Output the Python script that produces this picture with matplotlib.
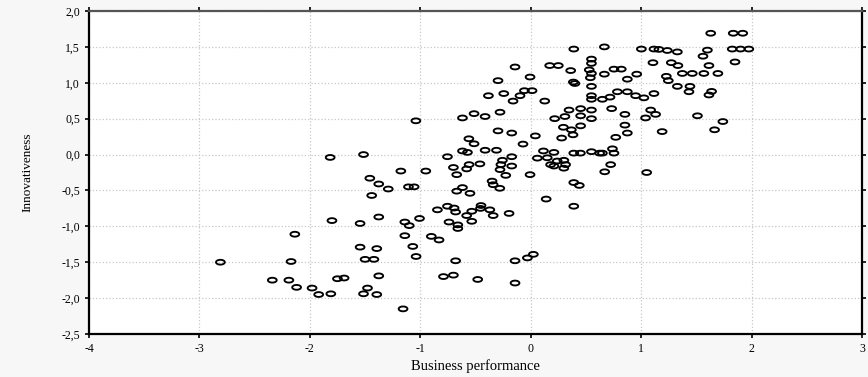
import numpy as np
import matplotlib
matplotlib.use('Agg')
import matplotlib.pyplot as plt
from matplotlib.path import Path
from matplotlib.ticker import FuncFormatter

# Dane
biz_perf = [
    -1.816, -1.514, -1.176, -0.95, -1.457, -1.376, -1.29, -1.44, -1.107, -1.056,
    -0.845, -1.80, -1.545, -1.376, -1.14, -1.10, -1.007, -2.136, -1.14, -0.90,
    -0.83, -1.545, -1.394, -1.068, -1.038, -2.81, -2.17, -1.50, -1.42, -2.34,
    -2.19, -2.12, -1.98, -1.92, -1.81, -1.75, -1.69, -1.376, -1.478, -1.514,
    -1.394, -1.156,
    -0.618, -0.67, -0.55, -0.35, -0.34, -0.28, 0.39, 0.44, 0.14, 0.39,
    -0.754, -0.694, -0.68, -0.58, -0.534, -0.45, -0.455, -0.37, -0.34, -0.196,
    -0.534, -0.74, -0.66, -0.66, -0.68, -0.142, -0.03, 0.024, -0.79, -0.70,
    -0.48, -0.142,
    0.39, 0.667, 1.002, 1.116, 1.161, 1.237, 1.328, -0.142, 0.172, 0.25,
    0.362, 0.667, 0.754, 0.82, 0.875, 0.96, -0.296, -0.006, 0.386, 0.40,
    0.55, -0.383, -0.244, -0.097, -0.057, 0.012, -0.16, 0.127, 0.55, 0.55,
    0.649, 0.718, 0.785, 0.875, 0.95, 1.025, 1.116, -0.618, -0.513, -0.413,
    -0.278, -1.04, 0.217, 0.31, 0.347, 0.452, 0.452, 0.55, 0.55, 0.733,
    0.853, 1.04, 1.086, 1.131, -0.296, -0.172, 0.042, -0.07, -0.56, -0.513,
    0.296, 0.368, 0.452, 0.28, 0.383, 0.853, 0.875, 0.77, 1.19, 1.51,
    1.665, 1.74, -0.754, -0.618, -0.573, -0.413, -0.31, -0.172, -0.256, -0.27,
    -0.172, -0.278, -0.226, -0.558, -0.46, -0.58, -0.70, -0.67, -0.006, 0.115,
    0.21, 0.06, 0.15, 0.18, 0.24, 0.30, 0.316, 0.30, 0.21, 0.39,
    0.45, 0.55, 0.624, 0.649, 0.74, 0.754, 0.724, 0.67, 1.05, 1.63,
    1.834, 1.92, 1.60, 1.56, 1.825, 1.90, 1.975, 1.85, 1.107, 1.273,
    1.333, 1.614, 1.373, 1.463, 1.568, 1.695, 1.228, 1.246, 1.328, 1.442,
    1.433, 1.614, 1.638, 0.55, 0.55, 0.53, 0.55, 0.54,
]
innov = [
    -0.04, 0.00, -0.23, -0.23, -0.33, -0.41, -0.48, -0.57, -0.45, -0.45,
    -0.77, -0.92, -0.96, -0.87, -0.94, -0.99, -0.89, -1.11, -1.13, -1.14,
    -1.19, -1.29, -1.31, -1.28, -1.42, -1.50, -1.49, -1.46, -1.46, -1.75,
    -1.75, -1.85, -1.86, -1.95, -1.94, -1.73, -1.72, -1.69, -1.86, -1.94,
    -1.95, -2.15,
    -0.46, -0.51, -0.54, -0.37, -0.42, -0.47, -0.39, -0.43, -0.62, -0.72,
    -0.72, -0.745, -0.80, -0.85, -0.79, -0.71, -0.75, -0.77, -0.85, -0.82,
    -0.93, -0.94, -0.98, -1.03, -1.48, -1.48, -1.44, -1.39, -1.70, -1.68,
    -1.74, -1.79,
    1.47, 1.50, 1.47, 1.47, 1.465, 1.45, 1.43, 1.22, 1.24, 1.24,
    1.17, 1.12, 1.19, 1.19, 1.05, 1.12, 1.03, 1.08, 1.01, 0.99,
    0.95, 0.82, 0.85, 0.82, 0.89, 0.89, 0.745, 0.745, 0.82, 0.77,
    0.77, 0.80, 0.875, 0.875, 0.82, 0.79, 0.85, 0.51, 0.57, 0.53,
    0.59, 0.47, 0.50, 0.53, 0.62, 0.64, 0.54, 0.62, 0.50, 0.64,
    0.56, 0.51, 0.62, 0.56, 0.33, 0.30, 0.26, 0.146, 0.22, 0.15,
    0.38, 0.345, 0.40, 0.23, 0.275, 0.41, 0.30, 0.24, 0.32, 0.54,
    0.345, 0.46, -0.03, 0.05, 0.03, 0.06, 0.06, -0.03, -0.08, -0.14,
    -0.16, -0.21, -0.29, -0.14, -0.13, -0.20, -0.18, -0.28, -0.28, 0.05,
    0.03, -0.05, -0.045, -0.14, -0.09, -0.08, -0.14, -0.19, -0.16, 0.02,
    0.02, 0.04, 0.02, 0.02, 0.08, 0.02, -0.14, -0.24, -0.25, 1.69,
    1.69, 1.69, 1.455, 1.37, 1.47, 1.47, 1.47, 1.29, 1.28, 1.28,
    1.24, 1.24, 1.13, 1.13, 1.13, 1.13, 1.09, 1.03, 0.95, 0.95,
    0.875, 0.83, 0.88, 1.33, 1.27, 1.18, 1.13, 1.07,
]

x_ticks = [-4, -3, -2, -1, 0, 1, 2, 3]
y_ticks = [-2.5, -2.0, -1.5, -1.0, -0.5, 0.0, 0.5, 1.0, 1.5, 2.0]

plt.rcParams['font.family'] = 'Liberation Serif'
plt.rcParams['axes.unicode_minus'] = False

# marker w ksztalcie elipsy
t = np.linspace(0, 2 * np.pi, 60)
ellipse = Path(np.column_stack([np.cos(t), 0.55 * np.sin(t)]), closed=True)

fig = plt.figure(figsize=(8.68, 3.77), dpi=100, facecolor='#f7f7f7')
ax = fig.add_axes([89 / 868, 1 - 334 / 377, (862 - 89) / 868, (334 - 11) / 377])
ax.set_facecolor('white')

ax.scatter(biz_perf, innov, marker=ellipse, s=40, facecolors='none',
           edgecolors='black', linewidths=1.35, zorder=3)

ax.set_xlim(x_ticks[0], x_ticks[-1])
ax.set_ylim(y_ticks[0], y_ticks[-1])
ax.set_xticks(x_ticks)
ax.set_yticks(y_ticks)
ax.yaxis.set_major_formatter(FuncFormatter(lambda v, p: ('%.1f' % v).replace('.', ',')))
ax.xaxis.set_major_formatter(FuncFormatter(lambda v, p: '%d' % v))

ax.grid(True, color='#c8c8c8', linestyle=':', linewidth=0.9, zorder=0)
ax.tick_params(axis='both', labelsize=8.5, direction='out', length=3, width=1.2)
ax.tick_params(axis='y', right=True, left=True)
ax.tick_params(axis='x', top=True, bottom=True)

for side in ['left', 'bottom', 'right']:
    ax.spines[side].set_linewidth(1.6)
    ax.spines[side].set_color('black')
ax.spines['top'].set_linewidth(1.6)
ax.spines['top'].set_color('#555555')

ax.set_xlabel('Business performance', fontsize=10.5, labelpad=3)
ax.set_ylabel('Innovativeness', fontsize=9.5, labelpad=20)

fig.savefig('out.png', dpi=100, facecolor=fig.get_facecolor())
